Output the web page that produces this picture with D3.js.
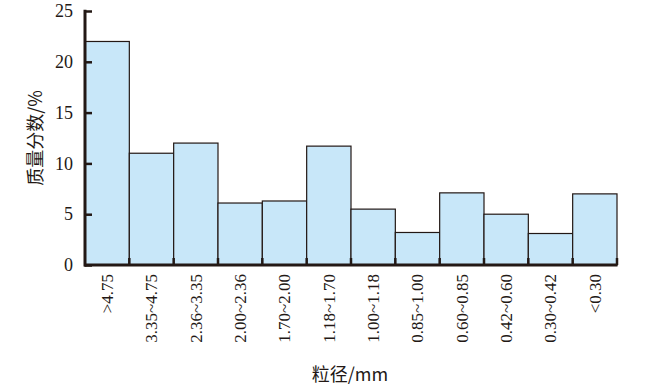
<!DOCTYPE html>
<html>
<head>
<meta charset="utf-8">
<script src="https://cdn.jsdelivr.net/npm/d3@7"></script>
<style>
  body { margin: 0; background: #fff; }
  svg text { font-family: "Liberation Serif", "DejaVu Serif", serif; fill: #231815; }
</style>
</head>
<body>
<svg id="chart" width="666" height="387"></svg>
<script>
// particle size classes (mm) and mass fraction (%)
var sizeClasses = [">4.75", "3.35~4.75", "2.36~3.35", "2.00~2.36", "1.70~2.00", "1.18~1.70",
                   "1.00~1.18", "0.85~1.00", "0.60~0.85", "0.42~0.60", "0.30~0.42", "<0.30"];
var massFraction = [22.0, 11.0, 12.0, 6.1, 6.3, 11.7, 5.5, 3.2, 7.1, 5.0, 3.1, 7.0];
var yTicks = [0, 5, 10, 15, 20, 25];

var svg = d3.select("#chart");
var axisColor = "#231815";

var x = d3.scaleBand().domain(sizeClasses).range([85, 617]).padding(0);
var y = d3.scaleLinear().domain([0, 25]).range([265, 11]);

// bars
svg.append("g").selectAll("rect")
  .data(sizeClasses)
  .enter().append("rect")
    .attr("x", (d) => x(d))
    .attr("y", (d, i) => y(massFraction[i]))
    .attr("width", x.bandwidth())
    .attr("height", (d, i) => y(0) - y(massFraction[i]))
    .attr("fill", "#c8e7f9")
    .attr("stroke", "#231815")
    .attr("stroke-width", 1.2);

// y axis
var yAxis = svg.append("g")
  .attr("transform", "translate(85,0)")
  .call(d3.axisRight(y).tickValues(yTicks).tickSize(7).tickFormat(d3.format("d")));
yAxis.select(".domain").remove();
yAxis.selectAll(".tick line").attr("stroke", axisColor).attr("stroke-width", 2.5);
yAxis.selectAll(".tick text")
  .attr("x", -12).attr("text-anchor", "end")
  .style("font-size", "18px");
svg.append("line")
  .attr("x1", 85).attr("x2", 85).attr("y1", y(25) - 1.2).attr("y2", y(0) + 1.5)
  .attr("stroke", axisColor).attr("stroke-width", 3);

// x axis: inner ticks at class boundaries
var boundaries = sizeClasses.map((d) => x(d)).concat([x.range()[1]]);
svg.append("g").selectAll("line")
  .data(boundaries.slice(1))
  .enter().append("line")
    .attr("x1", (d) => d).attr("x2", (d) => d)
    .attr("y1", y(0)).attr("y2", y(0) - 7)
    .attr("stroke", axisColor).attr("stroke-width", 2.5);
svg.append("line")
  .attr("x1", 84).attr("x2", 617.5).attr("y1", y(0)).attr("y2", y(0))
  .attr("stroke", axisColor).attr("stroke-width", 3);

var xAxis = svg.append("g")
  .attr("transform", "translate(0," + y(0) + ")")
  .call(d3.axisBottom(x).tickSize(0));
xAxis.select(".domain").remove();
xAxis.selectAll(".tick text")
  .attr("transform", "rotate(-90)")
  .attr("x", -9).attr("y", 0).attr("dy", "0.35em")
  .attr("text-anchor", "end")
  .style("font-size", "17px");

// axis titles
svg.append("text")
  .attr("transform", "translate(42,138) rotate(-90)")
  .attr("text-anchor", "middle")
  .style("font-size", "18px")
  .style("font-family", "'Noto Sans CJK SC', 'Liberation Serif'")
  .text("质量分数/%");

svg.append("text")
  .attr("x", 350).attr("y", 381)
  .attr("text-anchor", "middle")
  .style("font-size", "18px")
  .style("font-family", "'Noto Sans CJK SC', 'Liberation Serif'")
  .text("粒径/mm");
</script>
</body>
</html>
